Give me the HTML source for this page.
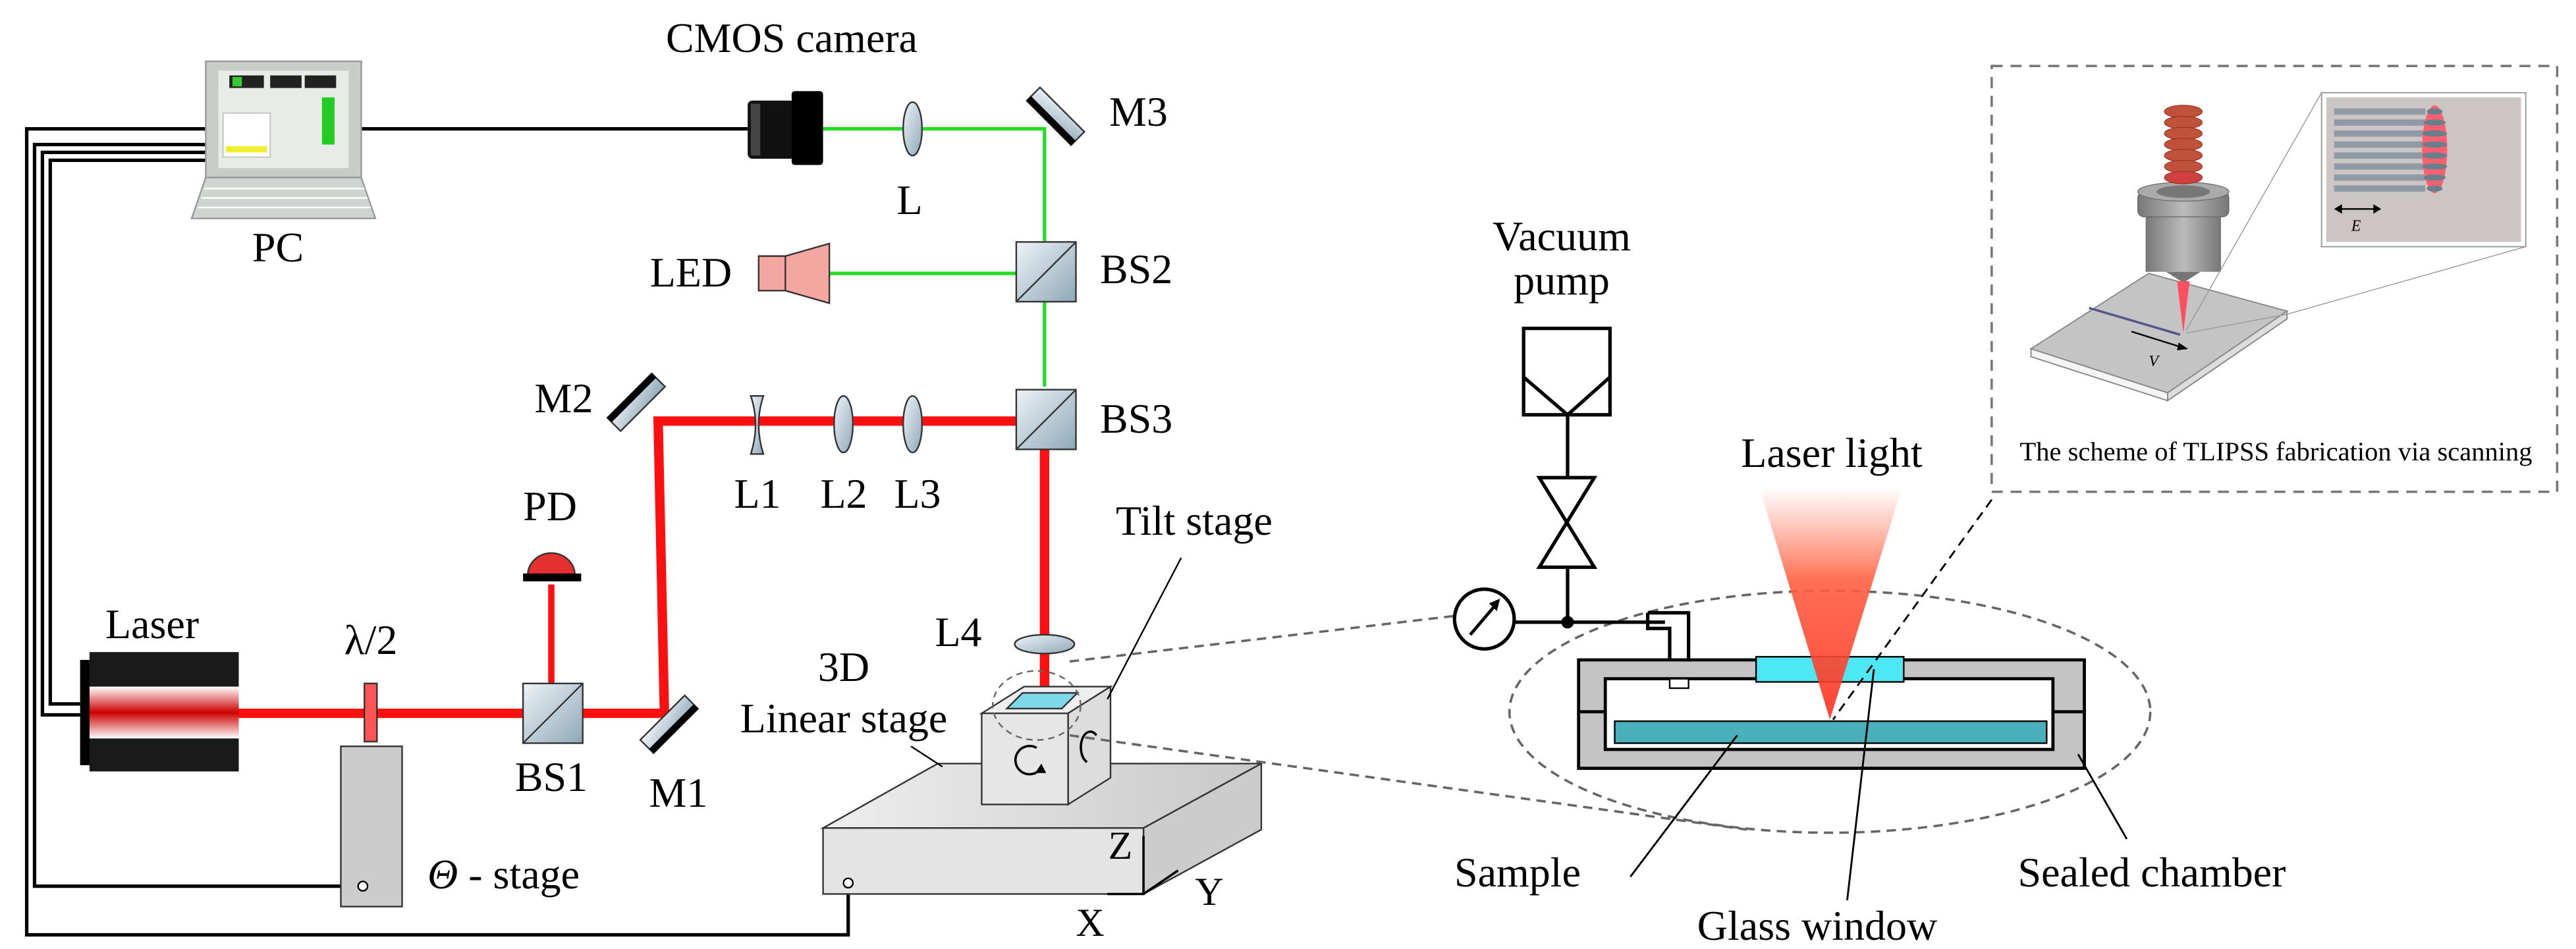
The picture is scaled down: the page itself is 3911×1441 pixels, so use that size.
<!DOCTYPE html>
<html><head><meta charset="utf-8"><style>
html,body{margin:0;padding:0;background:#fff;}
body{position:relative;width:3911px;height:1441px;overflow:hidden;}
svg{display:block;position:absolute;left:0;top:0;}
svg text{font-family:"Liberation Serif",serif;fill:#000;}
.t{position:absolute;font-family:"Liberation Serif","DejaVu Serif",serif;font-size:64px;line-height:1;white-space:nowrap;color:#000;}
.c{transform:translateX(-50%);}
.s{font-size:60px;}
</style></head><body>
<svg width="3911" height="1441" viewBox="0 0 1640 604" preserveAspectRatio="none" xmlns="http://www.w3.org/2000/svg">
<defs>
<linearGradient id="lz" x1="0" y1="0" x2="0" y2="1"><stop offset="0" stop-color="#fff"/><stop offset="0.5" stop-color="#c00"/><stop offset="1" stop-color="#fff"/></linearGradient>
<linearGradient id="cone" x1="0" y1="0" x2="0" y2="1"><stop offset="0" stop-color="#fff" stop-opacity="0.9"/><stop offset="0.4" stop-color="#ff6040"/><stop offset="1" stop-color="#ff3020"/></linearGradient>
<linearGradient id="opt" x1="0" y1="0" x2="1" y2="1"><stop offset="0" stop-color="#eef3f7"/><stop offset="1" stop-color="#8ea8b8"/></linearGradient>
<linearGradient id="gr" x1="0" y1="0" x2="1" y2="0"><stop offset="0" stop-color="#eee"/><stop offset="1" stop-color="#c8c8c8"/></linearGradient>
<linearGradient id="noz" x1="0" y1="0" x2="1" y2="0"><stop offset="0" stop-color="#777"/><stop offset="0.5" stop-color="#bbb"/><stop offset="1" stop-color="#777"/></linearGradient>
</defs>

<g fill="none" stroke="#000" stroke-width="2.2">
<polyline points="131,82 17,82 17,595 540,595 540,562"/>
<polyline points="131,92 22,92 22,564 228,564"/>
<polyline points="131,97 27,97 27,455 51,455"/>
<polyline points="131,102 32,102 32,448 51,448"/>
<line x1="230" y1="82" x2="476" y2="82"/>
</g>

<rect x="131" y="39" width="99" height="74" fill="#c8cdc8" stroke="#999"/>
<rect x="139" y="45" width="83" height="62" fill="#e8ece6"/>
<rect x="146" y="48" width="22" height="8" fill="#222"/><rect x="172" y="48" width="20" height="8" fill="#222"/><rect x="194" y="48" width="20" height="8" fill="#222"/>
<rect x="148" y="49" width="6" height="6" fill="#3c3"/>
<rect x="142" y="72" width="30" height="28" fill="#fff" stroke="#ccc"/>
<rect x="144" y="93" width="26" height="4" fill="#ee3"/>
<rect x="205" y="62" width="8" height="30" fill="#2c2"/>
<polygon points="131,113 230,113 239,139 122,139" fill="#d0d4d0" stroke="#999"/>
<line x1="130" y1="120" x2="232" y2="120" stroke="#fff"/><line x1="128" y1="126" x2="234" y2="126" stroke="#fff"/><line x1="126" y1="132" x2="236" y2="132" stroke="#fff"/>

<g stroke="#22dd22" stroke-width="2.2" fill="none">
<polyline points="524,82 665,82 665,246"/>
<line x1="528" y1="174" x2="647" y2="174"/>
</g>
<rect x="476" y="64" width="30" height="37" fill="#111" rx="3"/>
<rect x="504" y="58" width="20" height="47" fill="#000" rx="2"/>
<rect x="478" y="66" width="6" height="33" fill="#444"/>
<ellipse cx="581" cy="82" rx="6" ry="17" fill="url(#opt)" stroke="#333"/>
<g transform="translate(672,74) rotate(45)"><rect x="-20" y="-6" width="40" height="12" fill="url(#opt)" stroke="#333"/><rect x="-20" y="2" width="40" height="4" fill="#000"/></g>
<polygon points="483,163 500,163 528,155 528,193 500,185 483,185" fill="#f4a6a0" stroke="#333"/>
<line x1="500" y1="163" x2="500" y2="185" stroke="#333"/>
<rect x="647" y="154" width="38" height="38" fill="url(#opt)" stroke="#333"/><line x1="647" y1="192" x2="685" y2="154" stroke="#333"/>

<g stroke="#ff1010" stroke-width="6" fill="none">
<polyline points="152,454 423,454 419,268 647,268"/>
<line x1="665" y1="285" x2="665" y2="452"/>
<line x1="351" y1="372" x2="351" y2="435" stroke-width="4"/>
</g>
<rect x="647" y="248" width="38" height="38" fill="url(#opt)" stroke="#333"/><line x1="647" y1="286" x2="685" y2="248" stroke="#333"/>
<g transform="translate(405,256) rotate(-45)"><rect x="-20" y="-6" width="40" height="12" fill="url(#opt)" stroke="#333"/><rect x="-20" y="-6" width="40" height="4" fill="#000"/></g>
<path d="M478,252 L486,252 Q480,270 486,289 L478,289 Q484,270 478,252Z" fill="url(#opt)" stroke="#333"/>
<ellipse cx="537" cy="270" rx="6" ry="18" fill="url(#opt)" stroke="#333"/>
<ellipse cx="581" cy="270" rx="6" ry="18" fill="url(#opt)" stroke="#333"/>
<path d="M336,366 A15,14 0 0 1 366,366 Z" fill="#e53030" stroke="#333"/>
<rect x="333" y="365" width="37" height="5" fill="#000"/>
<rect x="333" y="435" width="38" height="38" fill="url(#opt)" stroke="#333"/><line x1="333" y1="473" x2="371" y2="435" stroke="#333"/>
<g transform="translate(426,461) rotate(-45)"><rect x="-20" y="-6" width="40" height="12" fill="url(#opt)" stroke="#333"/><rect x="-20" y="2" width="40" height="4" fill="#000"/></g>
<rect x="51" y="420" width="7" height="67" fill="#000"/>
<rect x="57" y="415" width="95" height="76" fill="#1a1a1a"/>
<rect x="57" y="437" width="95" height="33" fill="url(#lz)"/>
<rect x="232" y="435" width="8" height="37" fill="#f55" stroke="#333"/>
<rect x="217" y="475" width="39" height="102" fill="#ccc" stroke="#333"/>
<circle cx="231" cy="564" r="3" fill="#fff" stroke="#000"/>

<ellipse cx="665" cy="410" rx="19" ry="6" fill="url(#opt)" stroke="#333"/>

<polygon points="524,527 728,527 803,486 597,486" fill="url(#gr)" stroke="#333"/>
<polygon points="728,527 803,486 803,528 728,569" fill="#ccc" stroke="#333"/>
<rect x="524" y="527" width="204" height="42" fill="#e4e4e4" stroke="#333"/>
<circle cx="540" cy="562" r="3" fill="#fff" stroke="#000"/>
<line x1="580" y1="475" x2="600" y2="488" stroke="#000"/>
<polygon points="625,454 680,454 707,437 652,437" fill="#eee" stroke="#333"/>
<polygon points="680,454 707,437 707,495 680,512" fill="#ddd" stroke="#333"/>
<rect x="625" y="454" width="55" height="58" fill="#e6e6e6" stroke="#333"/>
<polygon points="641,451 676,451 686,441 651,441" fill="#7fd8ea" stroke="#333"/>
<path d="M660,476 A9,9 0 1 0 662,490" fill="none" stroke="#000" stroke-width="1.5"/>
<polygon points="663,486 659,492 666,492" fill="#000"/>
<path d="M698,468 A6,10 0 1 0 692,485" fill="none" stroke="#000" stroke-width="1.5"/>
<line x1="752" y1="355" x2="705" y2="445" stroke="#000"/>
<ellipse cx="660" cy="449" rx="28" ry="22" fill="none" stroke="#666" stroke-dasharray="4,3"/>
<g stroke="#000" stroke-width="1.5" fill="none"><polyline points="728,532 728,569 705,569"/><line x1="728" y1="569" x2="750" y2="554"/></g>

<g stroke="#666" stroke-width="1.5" stroke-dasharray="6,4" fill="none">
<line x1="681" y1="421" x2="926" y2="392"/>
<line x1="681" y1="468" x2="1112" y2="528"/>
<ellipse cx="1165" cy="453" rx="204" ry="77"/>
</g>

<g stroke="#000" stroke-width="2.2" fill="none">
<rect x="970" y="209" width="55" height="55"/>
<polyline points="970,240 998,264 1025,240"/>
<line x1="998" y1="264" x2="998" y2="304"/>
<polygon points="980,304 1015,304 980,361 1015,361"/>
<line x1="998" y1="361" x2="998" y2="396"/>
<circle cx="945" cy="394" r="19" fill="#fff"/>
<line x1="964" y1="396" x2="1060" y2="396"/>
<polyline points="1049,390 1075,390 1075,420"/>
<polyline points="1049,390 1049,400 1063,400 1063,433"/>
</g>
<line x1="936" y1="404" x2="953" y2="384" stroke="#000" stroke-width="2"/>
<polygon points="955,381 948,384 953,389" fill="#000"/>
<circle cx="998" cy="396" r="4" fill="#000"/>
<path d="M1005,420 H1327 V489 H1005 Z M1022,432 V477 H1307 V432 Z" fill="#c4c4c4" fill-rule="evenodd" stroke="#000" stroke-width="2"/>
<line x1="1005" y1="453" x2="1022" y2="453" stroke="#000" stroke-width="2"/>
<line x1="1307" y1="453" x2="1327" y2="453" stroke="#000" stroke-width="2"/>
<rect x="1063" y="432" width="12" height="6" fill="#fff" stroke="#000"/>
<rect x="1118" y="418" width="94" height="16" fill="#4de8f4" stroke="#000"/>
<rect x="1028" y="459" width="275" height="14" fill="#48b0b8" stroke="#000"/>
<polygon points="1120,310 1211,310 1165,458" fill="url(#cone)" opacity="0.9"/>
<g stroke="#000" stroke-width="1.2">
<line x1="1106" y1="468" x2="1038" y2="558"/>
<line x1="1193" y1="426" x2="1176" y2="573"/>
<line x1="1323" y1="480" x2="1354" y2="534"/>
</g>
<line x1="1268" y1="318" x2="1167" y2="458" stroke="#000" stroke-width="1.2" stroke-dasharray="6,4"/>

<rect x="1268" y="42" width="360" height="271" fill="#fff" stroke="#777" stroke-width="1.5" stroke-dasharray="7,5"/>
<polygon points="1293,222 1380,250 1456,198 1368,174" fill="#c4c4c4" stroke="#888" stroke-width="0.8"/>
<polygon points="1293,222 1380,250 1380,255 1293,227" fill="#f4f4f4" stroke="#888" stroke-width="0.8"/>
<polygon points="1380,250 1456,198 1456,203 1380,255" fill="#ddd" stroke="#888" stroke-width="0.8"/>
<line x1="1330" y1="196" x2="1388" y2="213" stroke="#55558a" stroke-width="1.5"/>
<line x1="1357" y1="211" x2="1392" y2="222" stroke="#000" stroke-width="1"/>
<polygon points="1393,222 1387,218 1386,223" fill="#000"/>
<text x="1368" y="233" font-size="10" font-style="italic" font-family="Liberation Sans,sans-serif">V</text>
<rect x="1366" y="135" width="48" height="38" fill="url(#noz)"/>
<rect x="1361" y="122" width="58" height="16" rx="4" fill="url(#noz)" stroke="#666" stroke-width="0.5"/>
<ellipse cx="1390" cy="122" rx="29" ry="6" fill="#aaa" stroke="#666" stroke-width="0.5"/>
<ellipse cx="1390" cy="122" rx="17" ry="4" fill="#777"/>
<polygon points="1379,173 1401,173 1390,180" fill="#777"/>
<polygon points="1386,179 1394,179 1390,212" fill="#ff5060"/>
<g fill="#c0523c" stroke="#a03020" stroke-width="0.5">
<ellipse cx="1390" cy="71" rx="12" ry="4"/><ellipse cx="1390" cy="78" rx="12" ry="4"/><ellipse cx="1390" cy="85" rx="12" ry="4"/><ellipse cx="1390" cy="92" rx="12" ry="4"/><ellipse cx="1390" cy="99" rx="12" ry="4"/><ellipse cx="1390" cy="106" rx="12" ry="4"/><ellipse cx="1390" cy="113" rx="12" ry="4" fill="#d04040"/>
</g>
<g stroke="#999" stroke-width="0.6">
<line x1="1392" y1="210" x2="1478" y2="59"/>
<line x1="1392" y1="212" x2="1456" y2="200"/>
<line x1="1456" y1="200" x2="1608" y2="157"/>
</g>
<rect x="1478" y="59" width="130" height="98" fill="#fff" stroke="#999" stroke-width="0.8"/>
<rect x="1481" y="62" width="124" height="92" fill="#cbc5c3"/>
<g fill="#8e9aa6">
<rect x="1486" y="69" width="58" height="4"/><rect x="1486" y="76" width="58" height="4"/><rect x="1486" y="83" width="58" height="4"/><rect x="1486" y="90" width="58" height="4"/><rect x="1486" y="97" width="58" height="4"/><rect x="1486" y="104" width="58" height="4"/><rect x="1486" y="111" width="58" height="4"/><rect x="1486" y="118" width="58" height="4"/>
</g>
<ellipse cx="1550" cy="95" rx="8" ry="28" fill="#ff6070"/>
<g fill="#6a7e8c"><ellipse cx="1550" cy="71" rx="5" ry="2"/><ellipse cx="1550" cy="78" rx="7" ry="2"/><ellipse cx="1550" cy="85" rx="8" ry="2"/><ellipse cx="1550" cy="92" rx="8" ry="2"/><ellipse cx="1550" cy="99" rx="8" ry="2"/><ellipse cx="1550" cy="106" rx="8" ry="2"/><ellipse cx="1550" cy="113" rx="7" ry="2"/><ellipse cx="1550" cy="120" rx="5" ry="2"/></g>
<line x1="1488" y1="133" x2="1514" y2="133" stroke="#000" stroke-width="1"/>
<polygon points="1486,133 1491,130 1491,136" fill="#000"/><polygon points="1516,133 1511,130 1511,136" fill="#000"/>
<text x="1500" y="147" font-size="10" font-style="italic" font-family="Liberation Sans,sans-serif" text-anchor="middle">E</text>
<text x="1449" y="293" font-size="17" text-anchor="middle">The scheme of TLIPSS fabrication via scanning</text>
</svg>

<div class="t c" style="left:422px;top:344px">PC</div>
<div class="t c" style="left:1202px;top:26px">CMOS camera</div>
<div class="t c" style="left:1381px;top:272px">L</div>
<div class="t" style="left:1684px;top:138px">M3</div>
<div class="t c" style="left:1049px;top:382px">LED</div>
<div class="t" style="left:1670px;top:377px">BS2</div>
<div class="t" style="left:1670px;top:604px">BS3</div>
<div class="t c" style="left:856px;top:573px">M2</div>
<div class="t c" style="left:1150px;top:718px">L1</div>
<div class="t c" style="left:1281px;top:718px">L2</div>
<div class="t c" style="left:1393px;top:718px">L3</div>
<div class="t c" style="left:835px;top:737px">PD</div>
<div class="t c" style="left:837px;top:1148px">BS1</div>
<div class="t c" style="left:1030px;top:1172px">M1</div>
<div class="t c" style="left:231px;top:916px">Laser</div>
<div class="t c" style="left:563px;top:940px">λ/2</div>
<div class="t" style="left:649px;top:1296px"><i>Θ</i> - stage</div>
<div class="t c" style="left:1455px;top:928px">L4</div>
<div class="t c" style="left:1281px;top:981px">3D</div>
<div class="t c" style="left:1281px;top:1059px">Linear stage</div>
<div class="t c" style="left:1813px;top:759px">Tilt stage</div>
<div class="t c s" style="left:1701px;top:1254px">Z</div>
<div class="t c s" style="left:1836px;top:1324px">Y</div>
<div class="t c s" style="left:1655px;top:1371px">X</div>
<div class="t c" style="left:2371px;top:327px">Vacuum</div>
<div class="t c" style="left:2371px;top:394px">pump</div>
<div class="t c" style="left:2781px;top:656px">Laser light</div>
<div class="t c" style="left:2304px;top:1293px">Sample</div>
<div class="t c" style="left:2759px;top:1374px">Glass window</div>
<div class="t c" style="left:3267px;top:1293px">Sealed chamber</div>
</body></html>
